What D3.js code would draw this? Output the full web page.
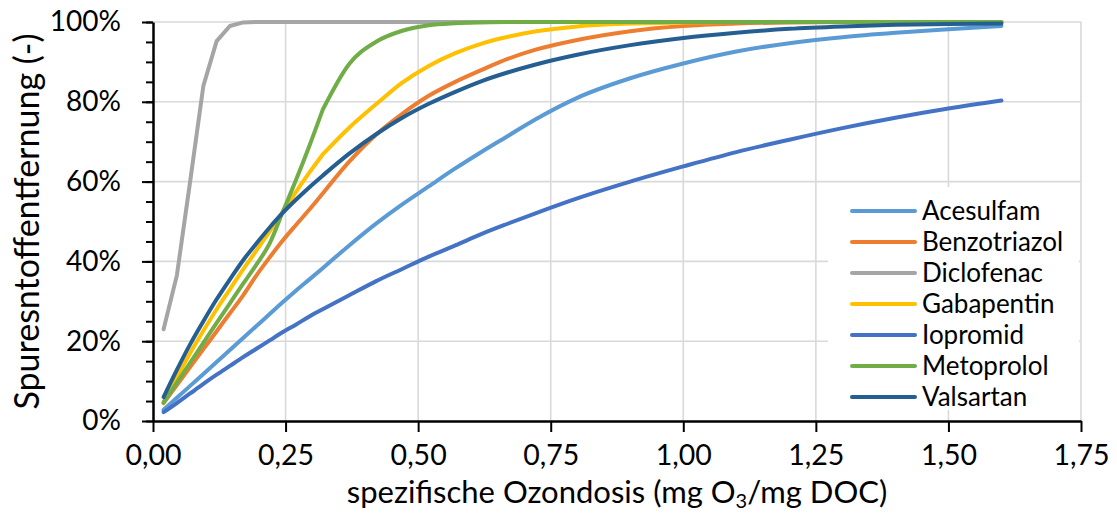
<!DOCTYPE html>
<html><head><meta charset="utf-8">
<script src="https://cdn.jsdelivr.net/npm/d3@7"></script>
<style>
html,body{margin:0;padding:0;background:#fff;}
svg{display:block;}
text{font-family:Lato,"Noto Sans",sans-serif;fill:#000;}
</style></head>
<body>
<svg id="chart" width="1117" height="514"></svg>
<script>
// ---------- data ----------
const doses = [0.02,0.045,0.07,0.095,0.12,0.145,0.17,0.195,0.22,0.245,0.27,0.295,0.32,
               0.37,0.42,0.47,0.52,0.57,0.62,0.67,0.72,0.8,0.9,1.0,1.1,1.2,1.3,1.4,1.5,1.6];
const acesulfam    = [2.8,5.8,8.8,11.8,14.8,17.8,20.8,23.8,26.8,29.8,32.7,35.5,38.3,
                      44.0,49.4,54.3,58.8,63.3,67.5,71.5,75.5,81.0,85.9,89.6,92.6,94.7,96.2,97.3,98.2,99.0];
const benzotriazol = [4.5,9.0,13.5,18.0,22.5,27.0,31.5,36.5,41.0,45.3,49.2,53.0,57.0,
                      65.0,71.7,77.0,81.5,85.0,88.0,90.8,93.0,95.5,97.7,99.0,99.6,99.9,100,100,100,100];
const diclofenac   = [23.0,36.5,60.0,84.0,95.2,99.0,99.9,100,100,100,100,100,100,
                      100,100,100,100,100,100,100,100,100,100,100,100,100,100,100,100,100];
const gabapentin   = [4.8,11.0,17.0,22.6,28.0,33.0,38.0,42.7,47.5,52.5,57.5,62.3,66.8,
                      73.5,79.3,84.8,89.0,92.2,94.6,96.3,97.6,98.9,99.6,99.9,100,100,100,100,100,100];
const iopromid     = [2.2,4.5,6.9,9.3,11.6,13.8,16.0,18.1,20.2,22.3,24.2,26.2,28.0,
                      31.5,35.0,38.1,41.2,44.0,46.9,49.5,52.0,55.8,60.0,63.8,67.4,70.5,73.4,76.0,78.3,80.3];
const metoprolol   = [4.6,9.6,14.6,19.6,24.6,29.5,34.4,39.2,44.5,52.5,60.5,69.0,78.0,
                      89.5,95.0,97.8,99.2,99.7,99.9,100,100,100,100,100,100,100,100,100,100,100];
const valsartan    = [6.0,12.8,19.2,25.0,30.5,35.5,40.3,44.5,48.5,52.2,55.5,58.6,61.5,
                      67.0,71.8,76.0,79.5,82.5,85.2,87.4,89.3,91.8,94.2,96.0,97.3,98.3,98.9,99.3,99.5,99.6];

const seriesNames  = ["Acesulfam","Benzotriazol","Diclofenac","Gabapentin","Iopromid","Metoprolol","Valsartan"];
const seriesValues = [acesulfam,benzotriazol,diclofenac,gabapentin,iopromid,metoprolol,valsartan];
const seriesColors = ["#5B9BD5","#ED7D31","#A5A5A5","#FFC000","#4472C4","#70AD47","#255E91"];

const xTicks = [0,0.25,0.5,0.75,1.0,1.25,1.5,1.75];
const yTicks = [0,20,40,60,80,100];
const yMinorTicks = d3.range(0,101,5);
const breakDose = 0.32; // visible bend in several curves

// ---------- layout ----------
const svg = d3.select("#chart");
const L = 153, R = 1081, T = 22, B = 421;
const x = d3.scaleLinear().domain([0,1.75]).range([L,R]);
const y = d3.scaleLinear().domain([0,100]).range([B,T]);

// gridlines
const grid = svg.append("g");
grid.selectAll("line.v").data(xTicks.filter(d=>d>0)).join("line")
  .attr("x1",d=>x(d)).attr("x2",d=>x(d)).attr("y1",T).attr("y2",B)
  .attr("stroke","#D9D9D9").attr("stroke-width",1.6);
grid.selectAll("line.h").data(yTicks.filter(d=>d>0)).join("line")
  .attr("x1",L).attr("x2",R).attr("y1",d=>y(d)).attr("y2",d=>y(d))
  .attr("stroke","#D9D9D9").attr("stroke-width",1.6);

// lines
const lineLin = d3.line().x(d=>x(d[0])).y(d=>y(d[1])).curve(d3.curveLinear);
const lineMono = d3.line().x(d=>x(d[0])).y(d=>y(d[1])).curve(d3.curveMonotoneX);
const gLines = svg.append("g");
seriesNames.forEach((name,i)=>{
  const pts = doses.map((d,j)=>[d,seriesValues[i][j]]);
  let dstr;
  if (name==="Diclofenac") {
    dstr = lineLin(pts);
  } else {
    const a = pts.filter(p=>p[0]<=breakDose+1e-9);
    const b = pts.filter(p=>p[0]>=breakDose-1e-9);
    dstr = lineMono(a) + lineMono(b).replace(/^M[^C L]*/, m=>"L"+m.slice(1));
  }
  gLines.append("path").attr("d",dstr)
    .attr("fill","none").attr("stroke",seriesColors[i])
    .attr("stroke-width",4).attr("stroke-linejoin","round").attr("stroke-linecap","round");
});

// axes
const yMinor = svg.append("g").attr("transform",`translate(${L},0)`)
  .call(d3.axisLeft(y).tickValues(yMinorTicks).tickSize(7).tickFormat(""));
yMinor.select(".domain").remove();
yMinor.selectAll("line").attr("stroke","#000").attr("stroke-width",2);

const yAxis = svg.append("g").attr("transform",`translate(${L},0)`)
  .call(d3.axisLeft(y).tickValues(yTicks).tickSize(11).tickSizeOuter(0).tickPadding(21).tickFormat(d=>d+"%"));
yAxis.select(".domain").attr("stroke","#000").attr("stroke-width",2.5);
yAxis.selectAll("line").attr("stroke","#000").attr("stroke-width",2);
yAxis.selectAll("text").style("font-size","28px").style("font-family","Lato");

const xAxis = svg.append("g").attr("transform",`translate(0,${B})`)
  .call(d3.axisBottom(x).tickValues(xTicks).tickSize(11).tickSizeOuter(0).tickPadding(13)
        .tickFormat(d=>d3.format(".2f")(d).replace(".",",")));
xAxis.select(".domain").attr("stroke","#000").attr("stroke-width",2.5);
xAxis.selectAll("line").attr("stroke","#000").attr("stroke-width",2);
xAxis.selectAll("text").style("font-size","28.5px").style("font-family","Lato");

// axis titles
svg.append("text").attr("transform",`translate(39,${(T+B)/2}) rotate(-90)`)
  .attr("text-anchor","middle").style("font-size","34px")
  .text("Spuresntoffentfernung (-)");
const xt = svg.append("text").attr("x",(L+R)/2).attr("y",503)
  .attr("text-anchor","middle").style("font-size","31px");
xt.append("tspan").text("spezifische Ozondosis (mg O");
xt.append("tspan").attr("dy",5).style("font-size","20px").text("3");
xt.append("tspan").attr("dy",-5).text("/mg DOC)");

// legend
const lg = svg.append("g");
lg.append("rect").attr("x",828).attr("y",187).attr("width",251).attr("height",223).attr("fill","#fff");
const rowY = d3.scaleLinear().domain([0,6]).range([211,397]);
seriesNames.forEach((name,i)=>{
  lg.append("line").attr("x1",852).attr("x2",915).attr("y1",rowY(i)).attr("y2",rowY(i))
    .attr("stroke",seriesColors[i]).attr("stroke-width",4).attr("stroke-linecap","round");
  lg.append("text").attr("x",922).attr("y",rowY(i)).attr("dy","0.35em")
    .style("font-size","26px").text(name);
});
</script>
</body></html>
